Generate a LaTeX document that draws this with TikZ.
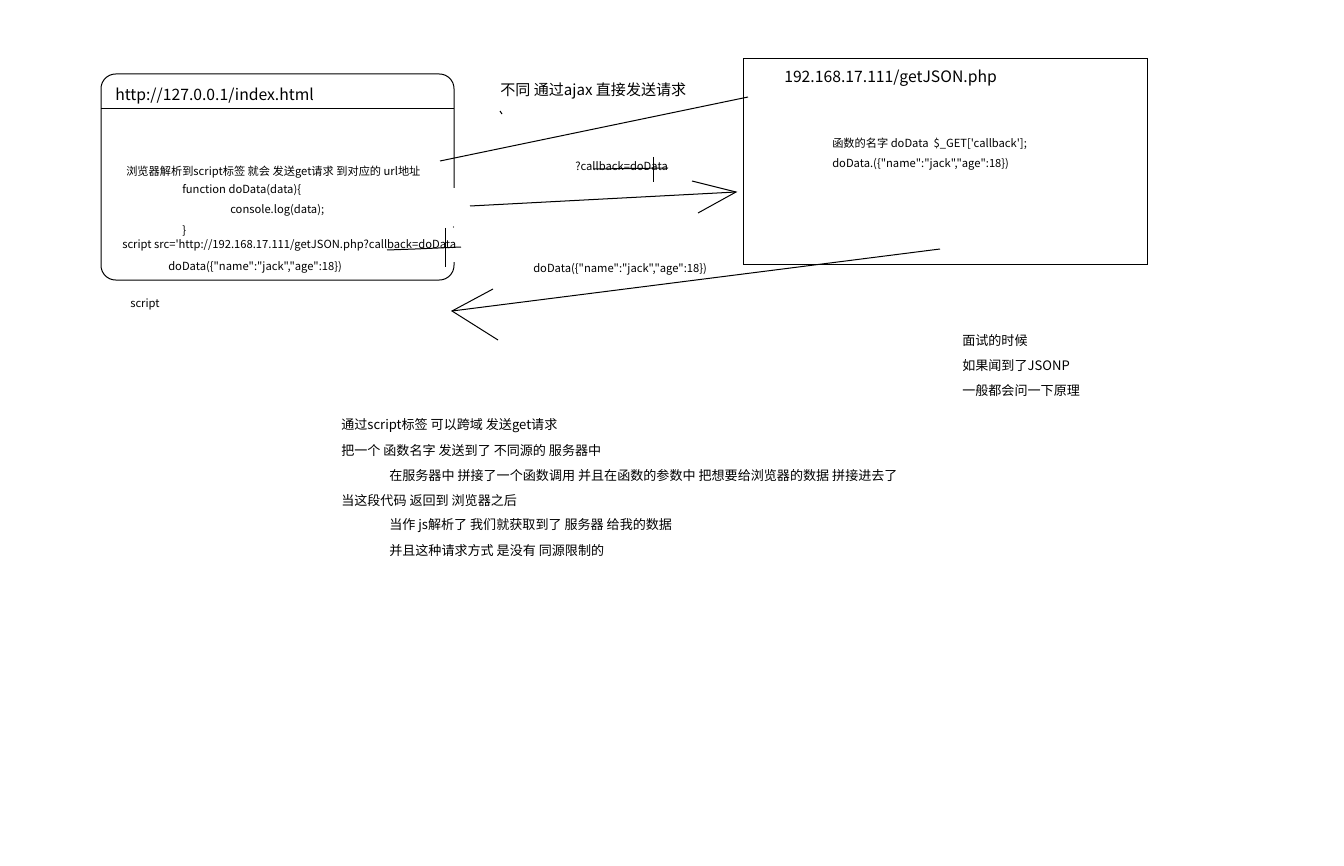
\documentclass[tikz,border=0pt]{standalone}
\usepackage{fontspec}
\newfontfamily\yahei{Noto Sans CJK SC}
\usetikzlibrary{positioning}

\begin{document}
\begin{tikzpicture}[x=0.75pt, y=-0.75pt,
    every node/.style={inner sep=0pt, anchor=west},
    title/.style={font=\yahei\fontsize{11.8}{14}\selectfont},
    code/.style={font=\yahei\fontsize{8.4}{10}\selectfont},
    note/.style={font=\yahei\fontsize{9.8}{11}\selectfont},
    pen/.style={line width=0.75pt}]
    \useasboundingbox (0,0) rectangle (1344,866);

    % Browser page
    \draw[pen, rounded corners=11pt] (454,188) -- (454,74) -- (101,74) -- (101,280) -- (454,280) -- (454,262);
    \draw[pen] (101,109) -- (454,109);
    \fill (453.5,227) circle (0.5pt);
    \node[title] (page) at (115,96) {http://127.0.0.1/index.html};
    \node[code] (parse) at (126,172) {浏览器解析到script标签 就会 发送get请求 到对应的 url地址};
    \node[code] (fn) at (182,190) {function doData(data)\{};
    \node[code] (log) at (230,210) {console.log(data);};
    \node[code] (close) at (182,231) {\}};
    \node[code] (src) at (122,245) {script src='http://192.168.17.111/getJSON.php?callback=doData};
    \node[code] (resp) at (168,267) {doData(\{"name":"jack","age":18\})};
    \node[code] (tag) at (130,304) {script};
    \draw[pen] (387,250) -- (415,249) -- (461,247);
    \draw[pen] (445,228) -- (445,267);

    % Server
    \draw[pen] (743,59) rectangle (1147,264);
    \node[title] (server) at (784,78) {192.168.17.111/getJSON.php};
    \node[code] (name) at (832,144) {函数的名字 doData~~\$\_GET['callback'];};
    \node[code] (call) at (832,164) {doData.(\{"name":"jack","age":18\})};

    % Ajax line
    \coordinate (ajaxA) at (440,161);
    \coordinate (ajaxB) at (748,97);
    \draw[pen] (ajaxA) -- (ajaxB);
    \node[font=\yahei\fontsize{11.3}{13}\selectfont] (ajax) at (500,91) {不同 通过ajax 直接发送请求};
    \draw[pen] (500,111) -- (502,114);

    % Request
    \coordinate (reqA) at (470,206);
    \coordinate (reqB) at (736,192);
    \draw[pen] (reqA) -- (reqB);
    \draw[pen] (692,181) -- (reqB) -- (698,213);
    \node[code] (cb) at (575,166) {?callback=doData};
    \draw[pen] (593,169) -- (668,168);
    \draw[pen] (653,157) -- (653,182);

    % Response
    \coordinate (resA) at (940,249);
    \coordinate (resB) at (452,311);
    \draw[pen] (resA) -- (resB);
    \draw[pen] (493,289) -- (resB) -- (498,340);
    \node[code] (data) at (533,269) {doData(\{"name":"jack","age":18\})};

    % Notes
    \node[note] (n1) at (962,341) {面试的时候};
    \node[note] (n2) at (962,366) {如果闻到了JSONP};
    \node[note] (n3) at (962,391) {一般都会问一下原理};

    % Summary
    \node[note] (s1) at (341,426) {通过script标签 可以跨域 发送get请求};
    \node[note] (s2) at (341,451) {把一个 函数名字 发送到了 不同源的 服务器中};
    \node[note] (s3) at (389,476) {在服务器中 拼接了一个函数调用 并且在函数的参数中 把想要给浏览器的数据 拼接进去了};
    \node[note] (s4) at (341,501) {当这段代码 返回到 浏览器之后};
    \node[note] (s5) at (389,526) {当作 js解析了 我们就获取到了 服务器 给我的数据};
    \node[note] (s6) at (389,551) {并且这种请求方式 是没有 同源限制的};
\end{tikzpicture}
\end{document}
